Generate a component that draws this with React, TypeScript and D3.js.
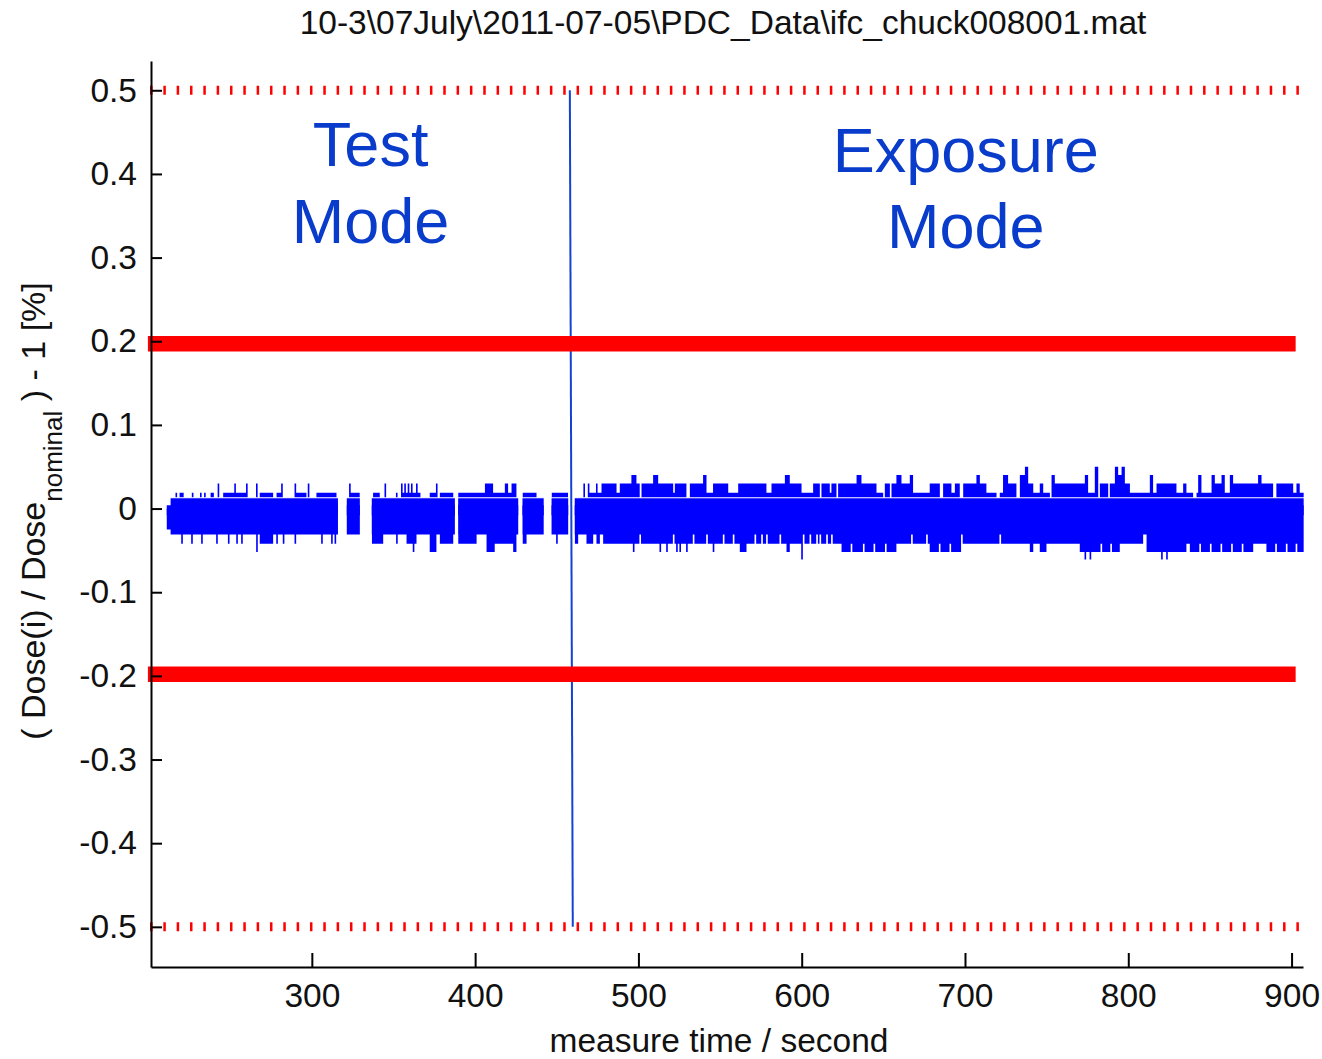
import React, { useRef, useEffect } from 'react';
import * as d3 from 'd3';

// chart values
const chartTitle = '10-3\\07July\\2011-07-05\\PDC_Data\\ifc_chuck008001.mat';
const xLabel = 'measure time / second';
const xDomain: [number, number] = [201.5, 907];
const yDomain: [number, number] = [-0.548, 0.535];
const xTicks = [300, 400, 500, 600, 700, 800, 900];
const yTicks = [0.5, 0.4, 0.3, 0.2, 0.1, 0, -0.1, -0.2, -0.3, -0.4, -0.5];

// +-0.5 % tolerance (dotted) and +-0.2 % spec (thick) lines
const toleranceLimits = [0.5, -0.5];
const specLimits = [0.197, -0.198];
const specSpan: [number, number] = [199.6, 902.5];

// switch from test mode to exposure mode
const modeSwitch: [number, number][] = [[458.0, 0.5], [459.8, -0.5]];
const modeLabels = [
  { lines: ['Test', 'Mode'], t: 336, v: [0.41, 0.318] },
  { lines: ['Exposure', 'Mode'], t: 700.5, v: [0.402, 0.311] },
];

// time intervals where samples exist
const dataRuns: [number, number][] = [
  [211, 316], [321.4, 329.4], [336.7, 387.6], [389.6, 426.4],
  [429, 442], [446.8, 457], [461, 907.5],
];

// upper envelope of the dose trace, [time, value] step points
const upperEdge: [number, number][] = [
  [211.0, 0.0], [213.5, 0.013], [216.5, 0.019], [217.5, 0.013], [219.0, 0.019], [221.5, 0.013],
  [226.5, 0.019], [227.5, 0.013], [231.5, 0.019], [232.5, 0.013], [234.0, 0.019], [235.0, 0.013],
  [238.0, 0.019], [240.0, 0.013], [242.3, 0.03], [243.3, 0.013], [245.7, 0.019], [252.5, 0.03],
  [253.5, 0.019], [259.7, 0.03], [260.7, 0.013], [265.8, 0.03], [266.8, 0.013], [268.1, 0.019],
  [276.3, 0.013], [278.4, 0.019], [281.2, 0.03], [282.2, 0.013], [289.4, 0.03], [290.4, 0.019],
  [296.7, 0.013], [297.5, 0.03], [298.5, 0.013], [302.8, 0.019], [315.1, 0.013],
  [322.8, 0.03], [323.8, 0.019], [329.4, 0.013], [337.5, 0.019], [341.6, 0.013], [344.5, 0.03],
  [345.5, 0.013], [351.5, 0.019], [352.5, 0.013], [354.6, 0.03], [355.6, 0.019], [356.6, 0.03],
  [357.6, 0.019], [358.7, 0.03], [359.7, 0.019], [360.7, 0.03], [361.7, 0.019], [363.8, 0.03],
  [364.8, 0.019], [366.5, 0.013], [372.2, 0.019], [376.0, 0.03], [377.0, 0.013], [378.4, 0.019],
  [386.6, 0.013], [389.6, 0.019], [406.0, 0.03], [411.0, 0.019], [418.2, 0.03], [420.2, 0.019],
  [422.3, 0.03], [425.3, 0.013], [429.0, 0.019], [437.6, 0.013], [446.8, 0.019], [457.0, 0.013],
  [461.1, 0.013], [466.3, 0.03], [467.3, 0.013], [469.0, 0.03], [470.0, 0.019], [474.0, 0.03],
  [475.0, 0.019], [477.4, 0.03], [486.6, 0.019], [488.6, 0.03], [495.7, 0.04], [498.8, 0.03],
  [500.8, 0.013], [501.9, 0.03], [509.0, 0.04], [512.1, 0.03], [521.3, 0.019], [522.3, 0.03],
  [529.4, 0.013], [531.5, 0.03], [539.6, 0.04], [541.7, 0.019], [545.7, 0.03], [555.0, 0.019],
  [561.1, 0.03], [578.4, 0.019], [581.5, 0.03], [589.7, 0.04], [592.7, 0.03], [599.9, 0.019],
  [607.0, 0.03], [611.1, 0.013], [612.1, 0.03], [617.2, 0.019], [618.2, 0.03], [621.3, 0.013],
  [622.3, 0.03], [633.6, 0.04], [636.6, 0.03], [645.8, 0.019], [649.9, 0.013], [650.9, 0.03],
  [654.0, 0.013], [655.0, 0.03], [658.0, 0.04], [661.1, 0.03], [666.2, 0.04], [668.2, 0.019],
  [678.4, 0.03], [684.6, 0.013], [686.6, 0.03], [691.7, 0.019], [693.8, 0.03], [696.8, 0.013],
  [698.9, 0.03], [707.0, 0.04], [709.1, 0.03], [713.1, 0.019], [719.3, 0.013], [721.3, 0.019],
  [723.3, 0.04], [726.4, 0.03], [731.5, 0.013], [733.6, 0.04], [736.7, 0.05], [738.7, 0.03],
  [741.8, 0.019], [745.8, 0.03], [747.9, 0.019], [752.0, 0.013], [753.0, 0.04], [755.0, 0.03],
  [773.4, 0.04], [775.4, 0.019], [779.5, 0.05], [781.6, 0.013], [782.6, 0.03], [787.7, 0.013],
  [788.7, 0.03], [791.8, 0.05], [793.8, 0.04], [795.9, 0.05], [797.9, 0.03], [801.0, 0.019],
  [813.2, 0.04], [815.2, 0.019], [817.3, 0.03], [829.5, 0.019], [833.6, 0.03], [835.6, 0.019],
  [839.7, 0.013], [841.8, 0.019], [842.8, 0.04], [844.8, 0.019], [851.0, 0.04], [853.0, 0.03],
  [857.1, 0.04], [859.1, 0.019], [862.2, 0.04], [864.2, 0.03], [879.5, 0.04], [881.6, 0.03],
  [888.7, 0.013], [890.7, 0.03], [901.0, 0.019], [903.0, 0.03], [905.0, 0.019], [907.5, 0.019],
];

// lower envelope of the dose trace
const lowerEdge: [number, number][] = [
  [211.0, -0.025], [213.5, -0.031], [220.0, -0.042], [221.0, -0.031], [226.1, -0.042], [227.1, -0.031],
  [232.2, -0.042], [233.2, -0.031], [241.4, -0.042], [242.4, -0.031], [248.6, -0.042], [249.6, -0.031],
  [253.7, -0.042], [254.7, -0.031], [256.7, -0.042], [257.7, -0.031], [265.9, -0.052], [266.9, -0.031],
  [268.1, -0.042], [276.3, -0.031], [278.2, -0.042], [279.2, -0.031], [282.2, -0.042], [283.2, -0.031],
  [289.4, -0.042], [290.4, -0.031], [305.7, -0.042], [306.7, -0.031], [311.8, -0.042], [312.8, -0.031],
  [313.9, -0.042], [314.9, -0.031], [336.7, -0.042], [343.7, -0.031], [351.6, -0.042], [352.6, -0.031],
  [358.0, -0.042], [361.8, -0.052], [362.8, -0.042], [364.1, -0.031], [372.2, -0.052], [376.3, -0.031],
  [378.4, -0.042], [386.6, -0.031], [389.6, -0.042], [400.9, -0.031], [407.0, -0.052], [412.0, -0.042],
  [423.3, -0.052], [425.3, -0.031], [429.0, -0.042], [431.5, -0.031], [449.6, -0.042], [450.6, -0.031],
  [461.0, -0.042], [463.1, -0.031], [468.2, -0.042], [472.3, -0.031], [474.3, -0.042], [476.4, -0.031],
  [478.4, -0.042], [496.6, -0.052], [497.6, -0.042], [500.6, -0.031], [501.6, -0.042], [512.9, -0.052],
  [513.9, -0.042], [517.0, -0.052], [518.0, -0.042], [521.1, -0.031], [522.1, -0.042], [523.1, -0.052],
  [524.1, -0.042], [525.1, -0.052], [526.1, -0.042], [529.2, -0.052], [530.2, -0.042], [533.3, -0.031],
  [534.3, -0.042], [541.5, -0.031], [542.5, -0.042], [545.5, -0.052], [546.5, -0.042], [551.7, -0.031],
  [552.7, -0.042], [557.8, -0.031], [558.8, -0.042], [562.1, -0.052], [566.2, -0.042], [571.1, -0.031],
  [572.1, -0.042], [575.2, -0.031], [576.2, -0.042], [578.2, -0.031], [579.2, -0.042], [586.4, -0.031],
  [587.4, -0.042], [590.7, -0.052], [592.7, -0.042], [599.7, -0.061], [600.7, -0.031], [601.7, -0.042],
  [604.8, -0.031], [605.8, -0.042], [608.9, -0.031], [609.9, -0.042], [610.9, -0.031], [611.9, -0.042],
  [615.0, -0.031], [616.0, -0.042], [618.0, -0.031], [619.0, -0.042], [624.4, -0.052], [630.0, -0.042],
  [631.0, -0.052], [637.5, -0.042], [638.5, -0.052], [644.0, -0.042], [645.0, -0.052], [651.0, -0.042],
  [652.0, -0.052], [658.0, -0.042], [667.0, -0.031], [668.0, -0.042], [676.2, -0.031], [677.2, -0.042],
  [678.4, -0.052], [684.0, -0.042], [685.0, -0.052], [690.5, -0.042], [691.5, -0.052], [697.6, -0.031],
  [698.6, -0.042], [721.1, -0.031], [722.1, -0.042], [739.7, -0.052], [741.8, -0.042], [745.8, -0.052],
  [749.9, -0.042], [770.3, -0.052], [773.2, -0.061], [774.2, -0.052], [776.3, -0.061], [777.3, -0.052],
  [783.0, -0.042], [784.0, -0.052], [789.0, -0.042], [790.0, -0.052], [794.8, -0.042], [809.1, -0.031],
  [811.2, -0.052], [820.1, -0.061], [821.1, -0.052], [823.2, -0.061], [824.2, -0.052], [835.6, -0.042],
  [837.7, -0.052], [843.5, -0.042], [844.5, -0.052], [850.0, -0.042], [851.0, -0.052], [856.5, -0.042],
  [857.5, -0.052], [863.0, -0.042], [864.0, -0.052], [869.5, -0.042], [870.5, -0.052], [876.5, -0.042],
  [884.6, -0.052], [890.0, -0.042], [891.0, -0.052], [896.5, -0.042], [897.5, -0.052], [902.5, -0.042],
  [903.5, -0.052], [907.5, -0.052],
];

// thin white trace crossing the band
const whiteTraceLevel = 0.0129;

const FONT = "'Liberation Sans', Arial, Helvetica, sans-serif";

const DoseChart = () => {
  const svgRef = useRef<SVGSVGElement | null>(null);

  useEffect(() => {
    const svg = d3.select(svgRef.current);
    svg.selectAll('*').remove();

    const width = 1322;
    const height = 1059;
    const margin = { top: 61, right: 19, bottom: 92, left: 151 };

    const x = d3.scaleLinear().domain(xDomain).range([margin.left, width - margin.right]);
    const y = d3.scaleLinear().domain(yDomain).range([height - margin.bottom, margin.top]);

    svg.append('rect').attr('width', width).attr('height', height).attr('fill', '#fff');

    // clip to the sample runs
    svg.append('defs').append('clipPath').attr('id', 'runs')
      .selectAll('rect')
      .data(dataRuns)
      .enter()
      .append('rect')
      .attr('x', d => x(d[0]))
      .attr('width', d => x(d[1]) - x(d[0]))
      .attr('y', 0)
      .attr('height', height);

    // dotted tolerance lines
    svg.append('g')
      .selectAll('line')
      .data(toleranceLimits)
      .enter()
      .append('line')
      .attr('x1', x(xDomain[0]) - 1)
      .attr('x2', x(xDomain[1]))
      .attr('y1', d => y(d))
      .attr('y2', d => y(d))
      .attr('stroke', '#ff0000')
      .attr('stroke-width', 9)
      .attr('stroke-dasharray', '2.5 10.83');

    // dose band
    const band = svg.append('g').attr('clip-path', 'url(#runs)');
    const upper = d3.area<[number, number]>()
      .x(d => x(d[0]))
      .y0(y(-0.008))
      .y1(d => y(d[1]))
      .curve(d3.curveStepAfter);
    const lower = d3.area<[number, number]>()
      .x(d => x(d[0]))
      .y0(d => y(d[1]))
      .y1(y(0.004))
      .curve(d3.curveStepAfter);
    band.append('path').datum(upperEdge).attr('d', upper).attr('fill', '#0000ff');
    band.append('path').datum(lowerEdge).attr('d', lower).attr('fill', '#0000ff');

    svg.append('line')
      .attr('x1', x(xDomain[0]))
      .attr('x2', x(xDomain[1]) + 2)
      .attr('y1', y(whiteTraceLevel))
      .attr('y2', y(whiteTraceLevel))
      .attr('stroke', '#fff')
      .attr('stroke-width', 1);

    // mode switch marker
    svg.append('line')
      .attr('x1', x(modeSwitch[0][0]))
      .attr('y1', y(modeSwitch[0][1]))
      .attr('x2', x(modeSwitch[1][0]))
      .attr('y2', y(modeSwitch[1][1]))
      .attr('stroke', '#1443d4')
      .attr('stroke-width', 2);

    // spec limit bars
    svg.append('g')
      .selectAll('line')
      .data(specLimits)
      .enter()
      .append('line')
      .attr('x1', x(specSpan[0]))
      .attr('x2', x(specSpan[1]))
      .attr('y1', d => y(d))
      .attr('y2', d => y(d))
      .attr('stroke', '#ff0000')
      .attr('stroke-width', 15.5);

    // axes, ticks pointing inward
    const yAxis = svg.append('g')
      .attr('transform', `translate(${margin.left},0)`)
      .call(d3.axisLeft(y).tickValues(yTicks).tickSizeInner(-11).tickSizeOuter(0).tickPadding(14)
        .tickFormat(d => String(+d)));
    const xAxis = svg.append('g')
      .attr('transform', `translate(0,${height - margin.bottom})`)
      .call(d3.axisBottom(x).tickValues(xTicks).tickSizeInner(-14).tickSizeOuter(0).tickPadding(16)
        .tickFormat(d => String(d)));
    [yAxis, xAxis].forEach(g => {
      g.attr('font-family', FONT).attr('font-size', 33.5);
      g.selectAll('path, line').attr('stroke', '#000').attr('stroke-width', 2);
      g.selectAll('text').attr('fill', '#111');
    });

    // titles
    svg.append('text')
      .attr('x', 723)
      .attr('y', 34)
      .attr('text-anchor', 'middle')
      .attr('font-family', FONT)
      .attr('font-size', 33.5)
      .attr('fill', '#111')
      .text(chartTitle);

    svg.append('text')
      .attr('x', 719)
      .attr('y', 1052)
      .attr('text-anchor', 'middle')
      .attr('font-family', FONT)
      .attr('font-size', 33.5)
      .attr('fill', '#111')
      .text(xLabel);

    const yl = svg.append('text')
      .attr('transform', 'translate(45,511) rotate(-90)')
      .attr('text-anchor', 'middle')
      .attr('font-family', FONT)
      .attr('font-size', 34)
      .attr('fill', '#111');
    yl.append('tspan').text('( Dose(i) / Dose');
    yl.append('tspan').attr('dy', 17).attr('font-size', 26).text('nominal');
    yl.append('tspan').attr('dy', -17).text(' ) - 1 [%]');

    // mode annotations
    modeLabels.forEach(m => {
      m.lines.forEach((line, i) => {
        svg.append('text')
          .attr('x', x(m.t))
          .attr('y', y(m.v[i]))
          .attr('text-anchor', 'middle')
          .attr('font-family', FONT)
          .attr('font-size', 63)
          .attr('fill', '#0a3ccc')
          .text(line);
      });
    });
  }, []);

  return <svg ref={svgRef} width={1322} height={1059} style={{ display: 'block' }} />;
};

export default function App() {
  return (
    <div style={{ position: 'absolute', left: 0, top: 0 }}>
      <DoseChart />
    </div>
  );
}
